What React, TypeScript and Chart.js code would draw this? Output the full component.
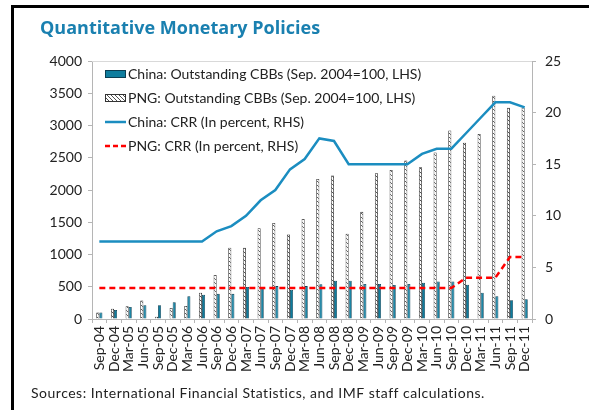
import React, { useEffect, useRef } from "react";
import { Chart, registerables } from "chart.js";
Chart.register(...registerables);

const TITLE = "Quantitative Monetary Policies";
const SOURCE = "Sources: International Financial Statistics, and IMF staff calculations.";

const labels = [
  "Sep-04", "Dec-04",
  "Mar-05", "Jun-05", "Sep-05", "Dec-05",
  "Mar-06", "Jun-06", "Sep-06", "Dec-06",
  "Mar-07", "Jun-07", "Sep-07", "Dec-07",
  "Mar-08", "Jun-08", "Sep-08", "Dec-08",
  "Mar-09", "Jun-09", "Sep-09", "Dec-09",
  "Mar-10", "Jun-10", "Sep-10", "Dec-10",
  "Mar-11", "Jun-11", "Sep-11", "Dec-11",
];

const chinaCBB = [100, 140, 187, 214, 214, 260, 354, 375, 390, 390, 495, 495, 510, 453, 510, 540, 594, 594, 542, 542, 526, 542, 563, 583, 583, 531, 406, 354, 292, 307];
const pngCBB = [100, 160, 198, 286, 36, 172, 203, 406, 682, 1104, 1104, 1406, 1490, 1312, 1552, 2170, 2224, 1323, 1661, 2260, 2312, 2458, 2354, 2583, 2922, 2734, 2870, 3461, 3276, 3276];
const chinaCRR = [7.5, 7.5, 7.5, 7.5, 7.5, 7.5, 7.5, 7.5, 8.5, 9, 10, 11.5, 12.5, 14.5, 15.5, 17.5, 17.25, 15, 15, 15, 15, 15, 16, 16.5, 16.5, 18, 19.5, 21, 21, 20.5];
const pngCRR = [3, 3, 3, 3, 3, 3, 3, 3, 3, 3, 3, 3, 3, 3, 3, 3, 3, 3, 3, 3, 3, 3, 3, 3, 3, 4, 4, 4, 6, 6];

const legendLabels = [
  "China: Outstanding CBBs (Sep. 2004=100, LHS)",
  "PNG: Outstanding CBBs (Sep. 2004=100, LHS)",
  "China: CRR (In percent, RHS)",
  "PNG: CRR (In percent, RHS)",
];

const TEAL = "#0e7d9e";
const TEAL_EDGE = "#0b3e52";
const BLUE = "#1b8dc0";
const RED = "#ff0000";
const FONT = "Lato";

function makeHatch(ctx: CanvasRenderingContext2D): CanvasPattern | string {
  const c = document.createElement("canvas");
  c.width = 4;
  c.height = 4;
  const g = c.getContext("2d");
  if (!g) return "#ccc";
  g.fillStyle = "#ffffff";
  g.fillRect(0, 0, 4, 4);
  g.strokeStyle = "#505050";
  g.lineWidth = 1;
  g.beginPath();
  g.moveTo(0, 0);
  g.lineTo(4, 4);
  g.moveTo(3, -1);
  g.lineTo(5, 1);
  g.moveTo(-1, 3);
  g.lineTo(1, 5);
  g.stroke();
  return ctx.createPattern(c, "repeat") || "#ccc";
}

function fitText(
  ctx: CanvasRenderingContext2D,
  text: string,
  font: string,
  targetWidth: number
) {
  ctx.font = font;
  (ctx as any).letterSpacing = "0px";
  const w = ctx.measureText(text).width;
  const extra = (targetWidth - w) / text.length;
  (ctx as any).letterSpacing = `${extra.toFixed(2)}px`;
}

export default function App() {
  const ref = useRef<HTMLCanvasElement | null>(null);

  useEffect(() => {
    const canvas = ref.current;
    if (!canvas) return;
    const ctx0 = canvas.getContext("2d");
    if (!ctx0) return;
    const hatch = makeHatch(ctx0);

    const deco = {
      id: "deco",
      afterDraw(chart: any) {
        const ctx = chart.ctx as CanvasRenderingContext2D;
        const ca = chart.chartArea;
        ctx.save();
        // top border of plot area
        ctx.strokeStyle = "#d9d9d9";
        ctx.lineWidth = 1;
        ctx.beginPath();
        ctx.moveTo(ca.left, ca.top + 0.5);
        ctx.lineTo(ca.right, ca.top + 0.5);
        ctx.stroke();
        // frame
        ctx.fillStyle = "#000";
        ctx.fillRect(11, 5, 578, 3);
        ctx.fillRect(11, 5, 3, 405);
        // title
        ctx.fillStyle = "#1a80b0";
        ctx.textBaseline = "alphabetic";
        ctx.textAlign = "left";
        fitText(ctx, TITLE, `bold 18px "Open Sans"`, 280);
        ctx.fillText(TITLE, 40, 34);
        // source
        ctx.fillStyle = "#222";
        fitText(ctx, SOURCE, `14px ${FONT}`, 454);
        ctx.fillText(SOURCE, 31, 398);
        (ctx as any).letterSpacing = "0px";
        // legend
        const rows = [74, 98, 122, 146];
        const sx0 = 105;
        const sx1 = 126;
        ctx.font = `14px ${FONT}`;
        ctx.textBaseline = "middle";
        rows.forEach((y, i) => {
          if (i === 0) {
            ctx.fillStyle = TEAL;
            ctx.fillRect(sx0, y - 3.5, sx1 - sx0, 7);
            ctx.strokeStyle = TEAL_EDGE;
            ctx.lineWidth = 1;
            ctx.strokeRect(sx0 + 0.5, y - 3.5, sx1 - sx0 - 1, 7);
          } else if (i === 1) {
            ctx.fillStyle = hatch as any;
            ctx.fillRect(sx0, y - 3.5, sx1 - sx0, 7);
            ctx.strokeStyle = "#333";
            ctx.lineWidth = 1;
            ctx.strokeRect(sx0 + 0.5, y - 3.5, sx1 - sx0 - 1, 7);
          } else if (i === 2) {
            ctx.strokeStyle = BLUE;
            ctx.lineWidth = 2.5;
            ctx.setLineDash([]);
            ctx.beginPath();
            ctx.moveTo(sx0, y);
            ctx.lineTo(sx1, y);
            ctx.stroke();
          } else {
            ctx.strokeStyle = RED;
            ctx.lineWidth = 2.5;
            ctx.setLineDash([5, 3]);
            ctx.beginPath();
            ctx.moveTo(sx0, y);
            ctx.lineTo(sx1 + 1, y);
            ctx.stroke();
            ctx.setLineDash([]);
          }
          ctx.fillStyle = "#222";
          ctx.fillText(legendLabels[i], 128, y + 0.5);
        });
        ctx.restore();
      },
    };

    const tickFont = { family: FONT, size: 14 };
    const axisColor = "#b5b5b5";
    const plain = (v: any) => String(v);

    const chart = new Chart(canvas, {
      type: "bar",
      data: {
        labels,
        datasets: [
          {
            type: "line",
            label: legendLabels[2],
            data: chinaCRR,
            yAxisID: "y1",
            borderColor: BLUE,
            borderWidth: 2.5,
            pointRadius: 0,
            tension: 0,
            fill: false,
            order: 1,
          },
          {
            type: "line",
            label: legendLabels[3],
            data: pngCRR,
            yAxisID: "y1",
            borderColor: RED,
            borderWidth: 2.5,
            borderDash: [6, 4],
            pointRadius: 0,
            tension: 0,
            fill: false,
            order: 0,
          },
          {
            type: "bar",
            label: legendLabels[0],
            data: chinaCBB,
            yAxisID: "y",
            backgroundColor: TEAL,
            borderColor: TEAL_EDGE,
            borderWidth: 0.8,
            categoryPercentage: 0.42,
            barPercentage: 1,
            order: 3,
          },
          {
            type: "bar",
            label: legendLabels[1],
            data: pngCBB,
            yAxisID: "y",
            backgroundColor: hatch as any,
            borderColor: "#2a2a2a",
            borderWidth: 0.8,
            categoryPercentage: 0.42,
            barPercentage: 1,
            order: 2,
          },
        ] as any,
      },
      options: {
        animation: false,
        responsive: false,
        maintainAspectRatio: false,
        devicePixelRatio: 1,
        layout: { padding: { left: 14, right: 0, top: 61, bottom: 0 } },
        plugins: {
          legend: { display: false },
          title: { display: false },
          tooltip: { enabled: false },
        },
        scales: {
          x: {
            grid: {
              offset: true,
              drawOnChartArea: false,
              drawTicks: true,
              tickLength: 4,
              color: axisColor,
            },
            border: { display: true, color: axisColor },
            ticks: {
              autoSkip: false,
              maxRotation: 90,
              minRotation: 90,
              padding: 3,
              font: tickFont,
              color: "#222",
            },
            afterFit: (s: any) => {
              s.height = 91;
            },
          },
          y: {
            position: "left",
            min: 0,
            max: 4000,
            ticks: { stepSize: 500, padding: 6, font: tickFont, color: "#222", callback: plain },
            grid: { drawOnChartArea: false, drawTicks: true, tickLength: 4, color: axisColor },
            border: { display: true, color: axisColor },
            afterFit: (s: any) => {
              s.width = 78;
            },
          },
          y1: {
            position: "right",
            min: 0,
            max: 25,
            ticks: { stepSize: 5, padding: 9, font: tickFont, color: "#222", callback: plain },
            grid: { drawOnChartArea: false, drawTicks: true, tickLength: 4, color: axisColor },
            border: { display: true, color: axisColor },
            afterFit: (s: any) => {
              s.width = 57;
            },
          },
        },
      } as any,
      plugins: [deco],
    });

    return () => {
      chart.destroy();
    };
  }, []);

  return (
    <div
      style={{
        position: "fixed",
        left: 0,
        top: 0,
        width: 589,
        height: 410,
        background: "#fff",
      }}
    >
      <canvas ref={ref} width={589} height={410} style={{ width: 589, height: 410, display: "block" }} />
    </div>
  );
}
